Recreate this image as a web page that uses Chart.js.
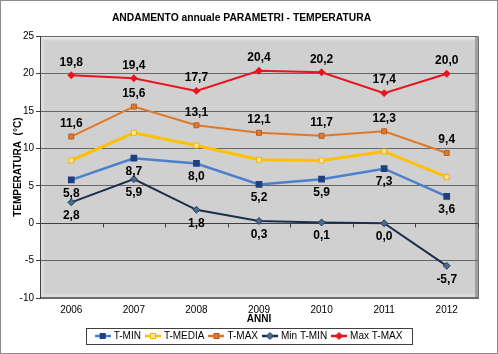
<!DOCTYPE html>
<html>
<head>
<meta charset="utf-8">
<script src="https://cdn.jsdelivr.net/npm/chart.js@4.4.1/dist/chart.umd.min.js"></script>
<style>
  html, body { margin: 0; padding: 0; background: #fff; }
  #wrap { width: 496px; height: 352px; border: 1px solid #8c8c8c; }
</style>
</head>
<body>
<div id="wrap"><canvas id="chart" width="496" height="352"></canvas></div>
<script>
// dati
const anni = ['2006', '2007', '2008', '2009', '2010', '2011', '2012'];
const tMin = [5.8, 8.7, 8.0, 5.2, 5.9, 7.3, 3.6];
const tMedia = [8.4, 12.1, 10.4, 8.5, 8.4, 9.6, 6.2];
const tMax = [11.6, 15.6, 13.1, 12.1, 11.7, 12.3, 9.4];
const minTMin = [2.8, 5.9, 1.8, 0.3, 0.1, 0.0, -5.7];
const maxTMax = [19.8, 19.4, 17.7, 20.4, 20.2, 17.4, 20.0];
const yTicks = [-10, -5, 0, 5, 10, 15, 20, 25];

const FONT = '"Liberation Sans", Arial, sans-serif';

// icona legenda: linea + marcatore
function legendIcon(line, fill, stroke, shape) {
  const c = document.createElement('canvas');
  c.width = 16; c.height = 10;
  const g = c.getContext('2d');
  g.strokeStyle = line; g.lineWidth = 2.5;
  g.beginPath(); g.moveTo(0, 5); g.lineTo(16, 5); g.stroke();
  g.fillStyle = fill; g.strokeStyle = stroke; g.lineWidth = 1;
  if (shape === 'rect') {
    g.fillRect(5, 2, 6, 6); g.strokeRect(5.5, 2.5, 5, 5);
  } else {
    g.beginPath(); g.moveTo(8, 1.5); g.lineTo(11.5, 5); g.lineTo(8, 8.5); g.lineTo(4.5, 5); g.closePath();
    g.fill(); g.stroke();
  }
  return c;
}

// sfondo area grafico con bordo in rilievo
const plotBg = {
  id: 'plotBg',
  afterLayout(chart) {
    // legenda centrata sulla pagina, non sull'area utile
    chart.legend.left += 8;
    chart.legend.right += 8;
  },
  beforeDraw(chart) {
    const { ctx, chartArea: a } = chart;
    const w = a.right - a.left, h = a.bottom - a.top;
    ctx.save();
    ctx.fillStyle = '#d0d0d0';
    ctx.fillRect(a.left, a.top, w, h);
    const gr = ctx.createLinearGradient(0, a.top, 0, a.top + 5);
    gr.addColorStop(0, '#f2f2f2');
    gr.addColorStop(1, '#d0d0d0');
    ctx.fillStyle = gr;
    ctx.fillRect(a.left, a.top, w, 5);
    ctx.fillStyle = '#dcdcdc';
    ctx.fillRect(a.left + 1, a.top + 3, 3, h - 3);
    ctx.fillRect(a.left, a.bottom - 4, w, 3);
    ctx.fillStyle = '#a0a0a0';
    ctx.fillRect(a.right - 3, a.top, 3, h);
    ctx.fillStyle = '#707070';
    ctx.fillRect(a.right, a.top, 1, h + 1);
    ctx.fillRect(a.left, a.bottom - 1, w, 2);
    ctx.restore();
  },
  beforeDatasetsDraw(chart) {
    const { ctx, chartArea: a, scales } = chart;
    const y0 = Math.round(scales.y.getPixelForValue(0)) + 0.5;
    ctx.save();
    ctx.strokeStyle = '#404040';
    ctx.lineWidth = 1;
    ctx.beginPath();
    ctx.moveTo(a.left, y0); ctx.lineTo(a.right, y0);
    for (let i = 0; i <= anni.length; i++) {
      const x = Math.round(a.left + (a.right - a.left) * i / anni.length) + 0.5;
      ctx.moveTo(x, y0); ctx.lineTo(x, y0 + 4);
    }
    ctx.stroke();
    ctx.restore();
  },
  afterDraw(chart) {
    const boxes = chart.legend.legendHitBoxes;
    if (!boxes || !boxes.length) return;
    const l = Math.min(...boxes.map(b => b.left)) - 11;
    const r = Math.max(...boxes.map(b => b.left + b.width)) + 9;
    const t = Math.min(...boxes.map(b => b.top)) - 3;
    const b = Math.max(...boxes.map(b => b.top + b.height)) + 3;
    const ctx = chart.ctx;
    ctx.save();
    ctx.strokeStyle = '#404040';
    ctx.lineWidth = 1;
    ctx.strokeRect(Math.round(l) + 0.5, Math.round(t) + 0.5, Math.round(r - l), Math.round(b - t));
    ctx.restore();
  }
};

// etichette dei valori
const valueLabels = {
  id: 'valueLabels',
  afterDatasetsDraw(chart) {
    const ctx = chart.ctx;
    ctx.save();
    ctx.font = 'bold 12px ' + FONT;
    ctx.fillStyle = '#000';
    ctx.textAlign = 'center';
    ctx.textBaseline = 'middle';
    chart.data.datasets.forEach((ds, i) => {
      if (!ds.labelPos) return;
      chart.getDatasetMeta(i).data.forEach((p, j) => {
        const dy = ds.labelPos === 'above' ? -13 : 13.5;
        ctx.fillText(ds.data[j].toFixed(1).replace('.', ','), p.x, p.y + dy);
      });
    });
    ctx.restore();
  }
};

new Chart(document.getElementById('chart'), {
  type: 'line',
  data: {
    labels: anni,
    datasets: [
      { label: 'T-MIN', data: tMin, borderColor: '#4a80cc', borderWidth: 2.5,
        pointStyle: 'rect', pointRadius: 3, pointBackgroundColor: '#1f3f7f', pointBorderColor: '#1f3f7f',
        legendIcon: legendIcon('#4a80cc', '#1f3f7f', '#1f3f7f', 'rect'), labelPos: 'below' },
      { label: 'T-MEDIA', data: tMedia, borderColor: '#ffc000', borderWidth: 3,
        pointStyle: 'rect', pointRadius: 3.5, pointBackgroundColor: '#ffe9a0', pointBorderColor: '#f0b000', pointBorderWidth: 1,
        legendIcon: legendIcon('#ffc000', '#ffe9a0', '#f0b000', 'rect') },
      { label: 'T-MAX', data: tMax, borderColor: '#e0782a', borderWidth: 2,
        pointStyle: 'rect', pointRadius: 3.5, pointBackgroundColor: '#e07a30', pointBorderColor: '#b85c18', pointBorderWidth: 1,
        legendIcon: legendIcon('#e0782a', '#e07a30', '#b85c18', 'rect'), labelPos: 'above' },
      { label: 'Min T-MIN', data: minTMin, borderColor: '#1c2e4e', borderWidth: 2,
        pointStyle: 'rectRot', pointRadius: 3.5, pointBackgroundColor: '#4a6a90', pointBorderColor: '#2a4060', pointBorderWidth: 1,
        legendIcon: legendIcon('#1c2e4e', '#4a6a90', '#2a4060', 'diamond'), labelPos: 'below' },
      { label: 'Max T-MAX', data: maxTMax, borderColor: '#e8141e', borderWidth: 2,
        pointStyle: 'rectRot', pointRadius: 2.5, pointBackgroundColor: '#e8141e', pointBorderColor: '#e8141e',
        legendIcon: legendIcon('#e8141e', '#e8141e', '#e8141e', 'diamond'), labelPos: 'above' }
    ]
  },
  options: {
    responsive: false,
    animation: false,
    layout: { padding: { left: 4, right: 19, top: 0, bottom: 2 } },
    elements: { line: { tension: 0 } },
    plugins: {
      tooltip: { enabled: false },
      title: {
        display: true,
        text: 'ANDAMENTO annuale PARAMETRI - TEMPERATURA',
        color: '#000',
        font: { family: FONT, size: 10.3, weight: 'bold' },
        padding: { top: 11, bottom: 12 }
      },
      legend: {
        position: 'bottom',
        labels: {
          color: '#000',
          font: { family: FONT, size: 10 },
          usePointStyle: true,
          pointStyleWidth: 12,
          boxHeight: 8,
          padding: 6,
          generateLabels(chart) {
            return chart.data.datasets.map((ds, i) => ({
              text: ds.label, pointStyle: ds.legendIcon, datasetIndex: i,
              fillStyle: ds.borderColor, strokeStyle: ds.borderColor, lineWidth: 0, fontColor: '#000'
            }));
          }
        }
      }
    },
    scales: {
      x: {
        offset: true,
        afterFit(scale) { scale.height = 27; },
        grid: { display: false, drawTicks: false },
        border: { display: false },
        ticks: { color: '#000', padding: 6, font: { family: FONT, size: 10 } },
        title: { display: true, text: 'ANNI', color: '#000', padding: { top: 0, bottom: 0 },
          font: { family: FONT, size: 10, weight: 'bold' } }
      },
      y: {
        min: -10, max: 25,
        afterBuildTicks(scale) { scale.ticks = yTicks.map(v => ({ value: v })); },
        afterFit(scale) { scale.width = 35; },
        grid: { color: '#666', drawTicks: true, tickLength: 4, tickColor: '#404040' },
        border: { display: true, color: '#404040' },
        ticks: { color: '#000', padding: 2, font: { family: FONT, size: 10 } },
        title: { display: true, text: 'TEMPERATURA  (°C)', color: '#000', padding: { top: 7, bottom: 0 },
          font: { family: FONT, size: 10, weight: 'bold' } }
      }
    }
  },
  plugins: [plotBg, valueLabels]
});
</script>
</body>
</html>
